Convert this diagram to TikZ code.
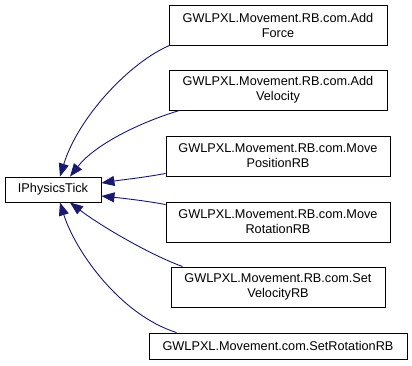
\documentclass[tikz,border=0pt]{standalone}
\usepackage{fontspec}
\setmainfont{Liberation Sans}
\usetikzlibrary{arrows.meta}
\definecolor{edgeblue}{HTML}{191970}
\begin{document}
\begin{tikzpicture}[x=1pt,y=-1pt,
  classbox/.style={draw=black,line width=0.9pt,fill=white,align=center,
    inner sep=0pt,font=\fontsize{12.7}{15}\selectfont},
  inherit/.style={draw=edgeblue,line width=0.9pt,
    -{Triangle[length=13pt,width=10pt,fill=edgeblue]}}]
\useasboundingbox (0,0) rectangle (412,365);

% base interface
\node[classbox,minimum width=96pt,minimum height=25pt] (tick) at (53,189.5) {IPhysicsTick};

% implementing classes
\node[classbox,minimum width=218pt,minimum height=40pt] (f1) at (278,25)
  {GWLPXL.Movement.RB.com.Add\\Force};
\node[classbox,minimum width=218pt,minimum height=40pt] (f2) at (278,90)
  {GWLPXL.Movement.RB.com.Add\\Velocity};
\node[classbox,minimum width=224pt,minimum height=40pt] (f3) at (278,156)
  {GWLPXL.Movement.RB.com.Move\\PositionRB};
\node[classbox,minimum width=224pt,minimum height=40pt] (f4) at (278,222)
  {GWLPXL.Movement.RB.com.Move\\RotationRB};
\node[classbox,minimum width=214pt,minimum height=40pt] (f5) at (278,287)
  {GWLPXL.Movement.RB.com.Set\\VelocityRB};
\node[classbox,minimum width=258pt,minimum height=26pt] (f6) at (278,346)
  {GWLPXL.Movement.com.SetRotationRB};

% inheritance arrows
\draw[inherit] ([xshift=1pt]f1.south west) .. controls +(-40,17) and +(18,-59) .. ([xshift=7pt]tick.north);
\draw[inherit] ([xshift=11pt]f2.south west) .. controls +(-40,12) and +(25,-32) .. ([xshift=17pt]tick.north);
\draw[inherit] ([yshift=3pt]f3.south west) .. controls +(-21,4) and +(19,-3) .. ([yshift=6.5pt]tick.east);
\draw[inherit] ([yshift=-3pt]f4.north west) .. controls +(-21,-4) and +(19,2) .. ([yshift=-6.5pt]tick.east);
\draw[inherit] ([xshift=12pt]f5.north west) .. controls +(-33,-12) and +(30,23) .. ([xshift=17pt]tick.south);
\draw[inherit] ([xshift=28pt]f6.north west) .. controls +(-57,-18) and +(15,48) .. ([xshift=7pt]tick.south);
\end{tikzpicture}
\end{document}
